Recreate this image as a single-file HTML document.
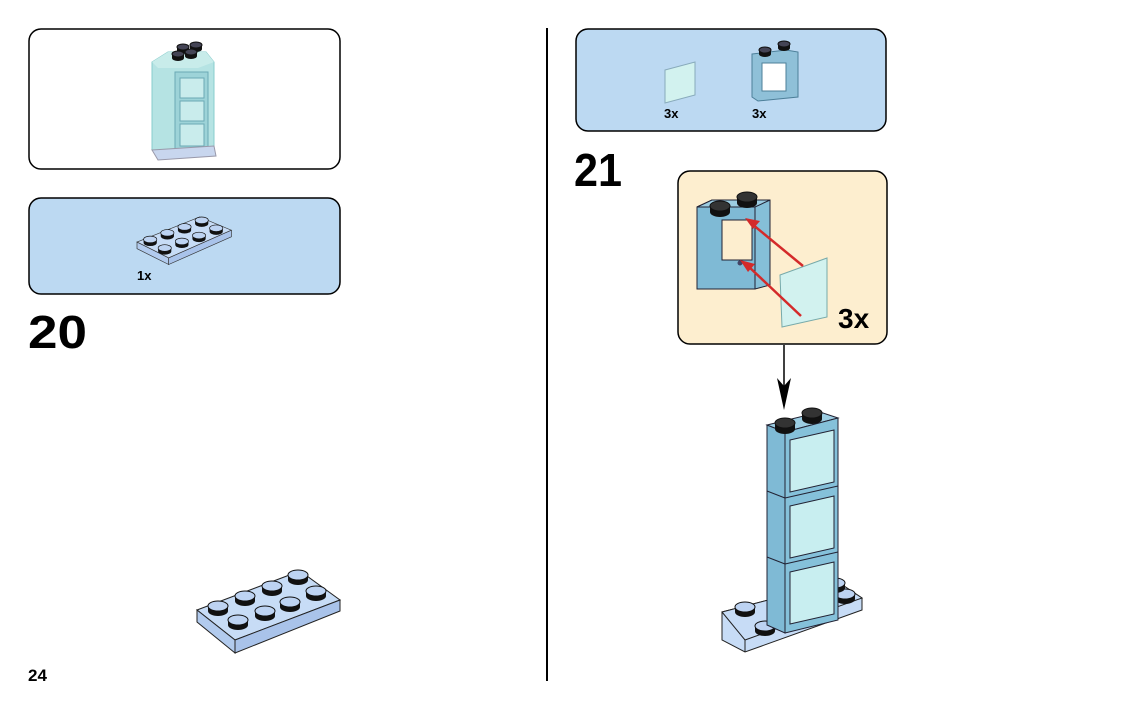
<!DOCTYPE html>
<html><head><meta charset="utf-8"><style>
html,body{margin:0;padding:0;background:#fff;}
svg{display:block;font-family:"Liberation Sans",Arial,sans-serif;}
</style></head><body>
<svg width="1123" height="709" viewBox="0 0 1123 709" xmlns="http://www.w3.org/2000/svg">
<defs>
<g id="stud"><path d="M-10,0 v5 a10,5 0 0 0 20,0 v-5 z" fill="#111"/><ellipse cx="0" cy="0" rx="10" ry="5" fill="#bdd3f2" stroke="#111" stroke-width="1"/></g>
<g id="dstud"><path d="M-10,0 v6 a10,5 0 0 0 20,0 v-6 z" fill="#111"/><ellipse cx="0" cy="0" rx="10" ry="5" fill="#333" stroke="#111"/></g>
<g id="sdstud"><path d="M-6,0 v4 a6,3 0 0 0 12,0 v-4 z" fill="#111"/><ellipse cx="0" cy="0" rx="6" ry="3" fill="#445" stroke="#111"/></g>
</defs>
<line x1="547" y1="28" x2="547" y2="681" stroke="#000" stroke-width="2"/>

<rect x="29" y="29" width="311" height="140" rx="12" fill="#fff" stroke="#000" stroke-width="1.5"/>
<g>
<polygon points="152,62 168,52 206,52 214,62 214,150 158,155 152,150" fill="#b5e3e3" stroke="#8cc" stroke-width="1"/>
<polygon points="152,62 168,52 206,52 214,62 198,68 158,68" fill="#c8ecea"/>
<rect x="175" y="72" width="33" height="80" fill="#9dd3d8" stroke="#6aa9b5"/>
<rect x="180" y="78" width="24" height="20" fill="#c9ecec" stroke="#6aa9b5"/>
<rect x="180" y="101" width="24" height="20" fill="#c9ecec" stroke="#6aa9b5"/>
<rect x="180" y="124" width="24" height="22" fill="#c9ecec" stroke="#6aa9b5"/>
<polygon points="152,150 214,146 216,156 158,160" fill="#c8d6ee" stroke="#99a"/>
<use href="#sdstud" x="183" y="47"/><use href="#sdstud" x="196" y="45"/><use href="#sdstud" x="178" y="54"/><use href="#sdstud" x="191" y="52"/>
</g>

<rect x="29" y="198" width="311" height="96" rx="12" fill="#bcd9f2" stroke="#000" stroke-width="1.5"/>
<g transform="translate(137,217) scale(0.66)">
<polygon points="0,38 95,0 143,20 48,62" fill="#c7dcf6" stroke="#333"/>
<polygon points="0,38 48,62 48,72 0,48" fill="#b2cbee" stroke="#333"/>
<polygon points="48,62 143,20 143,30 48,72" fill="#a9c3ea" stroke="#333"/>
<use href="#stud" x="20" y="34"/><use href="#stud" x="46" y="24"/><use href="#stud" x="72" y="15"/><use href="#stud" x="98" y="5"/>
<use href="#stud" x="42" y="47"/><use href="#stud" x="68" y="37"/><use href="#stud" x="94" y="28"/><use href="#stud" x="120" y="17"/>
</g>
<text x="137" y="280" font-size="13" font-weight="bold">1x</text>

<text x="28" y="348" font-size="46" font-weight="bold" textLength="59" lengthAdjust="spacingAndGlyphs">20</text>

<polygon points="197,610 300,571 340,600 235,640" fill="#c7dcf6" stroke="#222"/>
<polygon points="197,610 235,640 235,653 197,622" fill="#b2cbee" stroke="#222"/>
<polygon points="235,640 340,600 340,611 235,653" fill="#a9c3ea" stroke="#222"/>
<use href="#stud" x="218" y="606"/><use href="#stud" x="245" y="596"/><use href="#stud" x="272" y="586"/><use href="#stud" x="298" y="575"/>
<use href="#stud" x="238" y="620"/><use href="#stud" x="265" y="611"/><use href="#stud" x="290" y="602"/><use href="#stud" x="316" y="591"/>

<text x="28" y="681" font-size="17" font-weight="bold">24</text>

<rect x="576" y="29" width="310" height="102" rx="12" fill="#bcd9f2" stroke="#000" stroke-width="1.5"/>
<polygon points="665,70 695,62 695,95 665,103" fill="#d2f2ef" stroke="#8ab" />
<text x="664" y="118" font-size="13" font-weight="bold">3x</text>
<polygon points="752,54 786,50 798,52 798,97 758,101 752,97" fill="#8fc0d8" stroke="#4d7f99"/>
<rect x="762" y="63" width="24" height="28" fill="#fff" stroke="#4d7f99"/>
<use href="#sdstud" x="765" y="50"/><use href="#sdstud" x="784" y="44"/>
<text x="752" y="118" font-size="13" font-weight="bold">3x</text>

<text x="574" y="186" font-size="46" font-weight="bold" textLength="48" lengthAdjust="spacingAndGlyphs">21</text>

<rect x="678" y="171" width="209" height="173" rx="12" fill="#fdeecf" stroke="#000" stroke-width="1.5"/>
<polygon points="697,207 712,200 770,200 770,285 755,289 697,289" fill="#85bfd8" stroke="#223" stroke-width="1"/>
<polygon points="697,207 712,200 770,200 755,207" fill="#9ccde2" stroke="#223"/>
<polygon points="697,207 755,207 755,289 697,289" fill="#7fbad5" stroke="#223"/>
<rect x="722" y="220" width="30" height="40" fill="#fdeecf" stroke="#223"/>
<circle cx="740" cy="263" r="2.5" fill="#446"/>
<use href="#dstud" x="720" y="206"/><use href="#dstud" x="747" y="197"/>
<polygon points="780,275 827,258 827,317 782,327" fill="#d2f2ef" stroke="#7aa" stroke-width="1"/>
<g stroke="#d42a2a" stroke-width="2.5" fill="#d42a2a">
<line x1="803" y1="266" x2="752" y2="224"/><polygon points="745,218 760,221 753,229" stroke="none"/>
<line x1="801" y1="316" x2="748" y2="266"/><polygon points="740,260 755,264 748,272" stroke="none"/>
</g>
<text x="838" y="328" font-size="28" font-weight="bold">3x</text>

<line x1="784" y1="345" x2="784" y2="395" stroke="#000" stroke-width="1.5"/>
<polygon points="777,378 784,410 791,378 784,386" fill="#000"/>

<polygon points="722,612 838,582 862,598 862,610 745,652 722,640" fill="#c7dcf6" stroke="#222"/>
<polygon points="722,612 838,582 862,598 745,640" fill="#c7dcf6" stroke="#222"/>
<line x1="745" y1="640" x2="745" y2="652" stroke="#222"/>
<use href="#stud" x="745" y="607"/><use href="#stud" x="765" y="626"/><use href="#stud" x="845" y="594"/><use href="#stud" x="835" y="583"/>
<polygon points="767,425 785,432 785,633 767,625" fill="#7fbad5" stroke="#223"/>
<polygon points="767,425 820,412 838,418 785,432" fill="#9ccde2" stroke="#223"/>
<polygon points="785,432 838,418 838,620 785,633" fill="#85c1da" stroke="#223"/>
<g stroke="#223" fill="#c8eef0">
<polygon points="790,440 834,430 834,482 790,492"/>
<polygon points="790,506 834,496 834,548 790,558"/>
<polygon points="790,572 834,562 834,614 790,624"/>
</g>
<g stroke="#223"><line x1="767" y1="491" x2="785" y2="498"/><line x1="785" y1="498" x2="838" y2="486"/>
<line x1="767" y1="557" x2="785" y2="564"/><line x1="785" y1="564" x2="838" y2="552"/></g>
<use href="#dstud" x="785" y="423"/><use href="#dstud" x="812" y="413"/>
</svg>
</body></html>
